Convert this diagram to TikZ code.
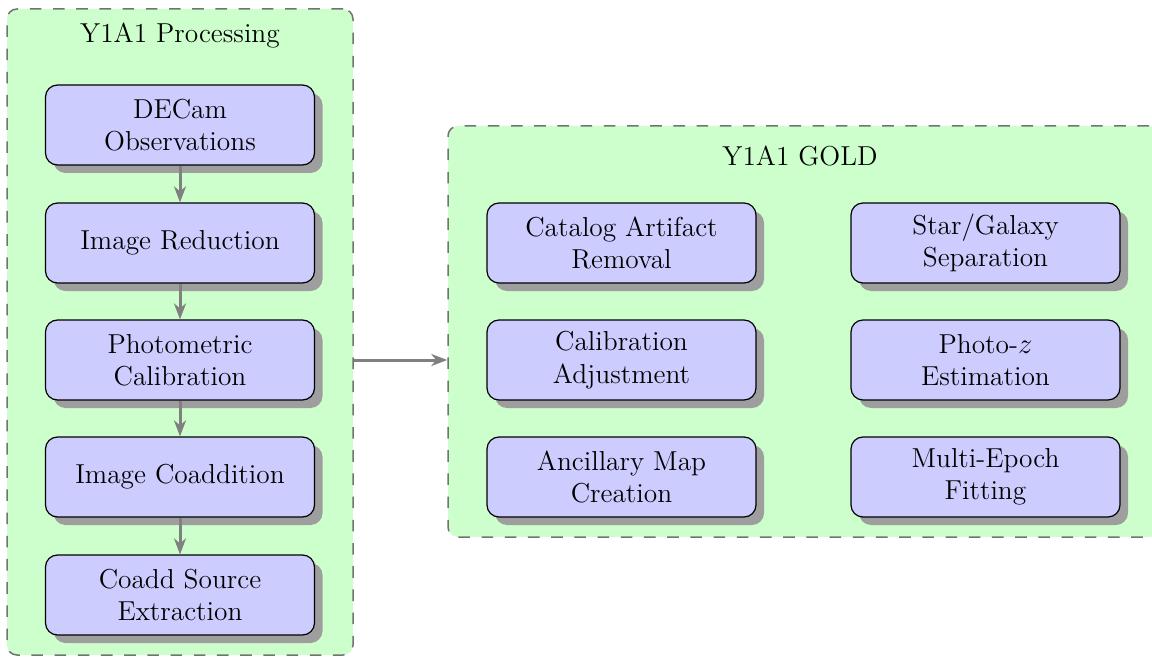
\documentclass[tikz,border=0pt]{standalone}
\usetikzlibrary{arrows.meta,shadows}
\begin{document}
\begin{tikzpicture}[x=0.5pt,y=-0.5pt,
  txt/.style={font=\fontsize{13.7}{16.2}\selectfont, align=center},
  container/.style={draw=black!55, fill=green!20, line width=0.75pt,
    dash pattern=on 5.8pt off 5.8pt, rounded corners=5pt, inner sep=0pt},
  stepbox/.style={txt, draw=black, fill=blue!20, line width=0.6pt, rounded corners=6pt,
    minimum width=134.5pt, minimum height=40pt, inner sep=0pt,
    drop shadow={shadow xshift=4pt, shadow yshift=-4pt, fill=black!38, opacity=1}},
  flow/.style={draw=black!50, line width=1.5pt, -{Stealth[length=8pt,width=6pt,inset=2.5pt]}}]
\useasboundingbox (0,0) rectangle (1152,658);
\node[container, minimum width=173pt, minimum height=323pt] (proc) at (180,332) {};
\node[container, minimum width=355.5pt, minimum height=205.5pt] (gold) at (803.5,331.5) {};
\node[txt] (proct) at (180,36) {Y1A1 Processing};
\node[txt] (goldt) at (800,156) {Y1A1 GOLD};
\node[stepbox] (a) at (180,125) {DECam\\Observations};
\node[stepbox] (b) at (180,243) {Image Reduction};
\node[stepbox] (c) at (180,360) {Photometric\\Calibration};
\node[stepbox] (d) at (180,477) {Image Coaddition};
\node[stepbox] (e) at (180,595) {Coadd Source\\Extraction};
\node[stepbox] (g1) at (621.5,243) {Catalog Artifact\\Removal};
\node[stepbox] (g2) at (621.5,360) {Calibration\\Adjustment};
\node[stepbox] (g3) at (621.5,477) {Ancillary Map\\Creation};
\node[stepbox] (g4) at (985.5,243) {Star/Galaxy\\Separation};
\node[stepbox] (g5) at (985.5,360) {Photo-$z$\\Estimation};
\node[stepbox] (g6) at (985.5,477) {Multi-Epoch\\Fitting};
\draw[flow] (a) -- (b);
\draw[flow] (b) -- (c);
\draw[flow] (c) -- (d);
\draw[flow] (d) -- (e);
\draw[flow] (c -| proc.east) -- (c -| gold.west);
\end{tikzpicture}
\end{document}
